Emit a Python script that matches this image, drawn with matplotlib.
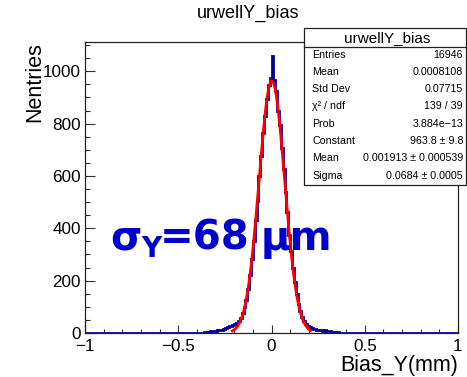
import numpy as np
import matplotlib
matplotlib.use("Agg")
import matplotlib.pyplot as plt
from matplotlib.patches import Rectangle
from matplotlib.ticker import MultipleLocator, FixedLocator, FixedFormatter

plt.rcParams['font.family'] = ['Liberation Sans', 'DejaVu Sans']

# Histogram: 200 bins of 0.01 mm on [-1, 1]; non-empty bins start at -0.36
bin_lo, bin_hi, n_bins = -1.0, 1.0, 200
first_filled_edge = -0.36
counts = [
    2, 4, 5, 6, 7, 8, 9, 11, 10, 13, 15, 18, 22, 28, 25, 30, 33, 40,
    47, 58, 75, 100, 128, 170, 220, 282, 350, 432, 505, 600, 678, 765,
    830, 895, 948, 975,
    1060, 968, 925, 850, 795, 708, 625, 540, 462, 375, 312, 248, 195,
    150, 112, 85, 62, 46, 36, 28, 24, 20, 16, 14, 13, 11, 12, 9, 10,
    8, 7, 6, 5, 4, 3, 2,
]

# Gaussian fit result
fit_constant = 963.8
fit_mean = 0.001913
fit_sigma = 0.0684
fit_range = (-0.21, 0.21)

# Stats box contents
stats_title = "urwellY_bias"
stats_labels = ["Entries", "Mean", "Std Dev", "\u03c7\u00b2 / ndf", "Prob",
                "Constant", "Mean", "Sigma"]
stats_values = ["16946", "0.0008108", "0.07715", "139 / 39", "3.884e\u221213",
                "963.8 \u00b1 9.8", "0.001913 \u00b1 0.000539",
                "0.0684 \u00b1 0.0005"]

x_ticks = [-1, -0.5, 0, 0.5, 1]
x_ticklabels = ["\u22121", "\u22120.5", "0", "0.5", "1"]
y_ticks = [0, 200, 400, 600, 800, 1000]
y_ticklabels = ["0", "200", "400", "600", "800", "1000"]

W, H = 467, 377
fig = plt.figure(figsize=(W / 100, H / 100), dpi=100)
ax = fig.add_axes([85 / W, 1 - 333 / H, (458 - 85) / W, (333 - 42) / H])


def px(x, y):
    """Pixel position (from top-left) to figure fraction."""
    return x / W, 1 - y / H


edges = np.linspace(bin_lo, bin_hi, n_bins + 1)
values = np.zeros(n_bins)
start = int(round((first_filled_edge - bin_lo) / 0.01))
values[start:start + len(counts)] = counts
ax.stairs(values, edges, color="#000099", lw=2.0, baseline=None, zorder=2)

xf = np.linspace(fit_range[0], fit_range[1], 400)
yf = fit_constant * np.exp(-0.5 * ((xf - fit_mean) / fit_sigma) ** 2)
ax.plot(xf, yf, color="#ff0000", lw=2.0, zorder=3)

ax.set_xlim(-1, 1)
ax.set_ylim(0, 1112)

ax.xaxis.set_major_locator(FixedLocator(x_ticks))
ax.xaxis.set_major_formatter(FixedFormatter(x_ticklabels))
ax.xaxis.set_minor_locator(MultipleLocator(0.1))
ax.yaxis.set_major_locator(FixedLocator(y_ticks))
ax.yaxis.set_major_formatter(FixedFormatter(y_ticklabels))
ax.yaxis.set_minor_locator(MultipleLocator(50))

ax.tick_params(axis="both", which="both", direction="in", top=False, right=False,
               labelsize=12.3, color="#333333")
ax.tick_params(axis="y", which="major", length=7.2, width=0.8, pad=3)
ax.tick_params(axis="y", which="minor", length=3.6, width=0.8)
ax.tick_params(axis="x", which="major", length=6, width=0.8, pad=4.5)
ax.tick_params(axis="x", which="minor", length=3, width=0.8)
for s in ax.spines.values():
    s.set_linewidth(0.9)
    s.set_color("#222222")

# Axis titles in ROOT placement
fig.text(*px(458, 365), "Bias_Y(mm)", ha="right", va="center", fontsize=15.5)
fig.text(*px(35, 42), "Nentries", ha="center", va="top", rotation=90,
         fontsize=15.5)

# Histogram title
fig.text(*px(248, 13), "urwellY_bias", ha="center", va="center", fontsize=13)

# Resolution annotation
big = dict(color="#0000cc", fontweight="bold", family="DejaVu Sans",
           va="baseline", ha="left")
fig.text(*px(110, 250), "\u03c3", fontsize=29, **big)
fig.text(*px(141, 257), "Y", fontsize=20, **big)
fig.text(*px(160, 250), "=68", fontsize=29, **big)
fig.text(*px(261, 250), "\u03bcm", fontsize=29, **big)

# Stats box
sax = fig.add_axes([0, 0, 1, 1], zorder=5)
sax.set_xlim(0, W)
sax.set_ylim(H, 0)
sax.axis("off")
sax.add_patch(Rectangle((304, 28), 162, 157, facecolor="white",
                        edgecolor="#222222", lw=0.9))
sax.plot([304, 466], [47, 47], color="#222222", lw=0.9)
sax.text(387, 38, stats_title, ha="center", va="center", fontsize=11)
row_y0, row_dy = 54.5, 17.3
for i, (lab, val) in enumerate(zip(stats_labels, stats_values)):
    y = row_y0 + i * row_dy
    sax.text(312.5, y, lab, ha="left", va="center", fontsize=7.7)
    sax.text(463, y, val, ha="right", va="center", fontsize=7.7)

fig.savefig("out.png", dpi=100)
